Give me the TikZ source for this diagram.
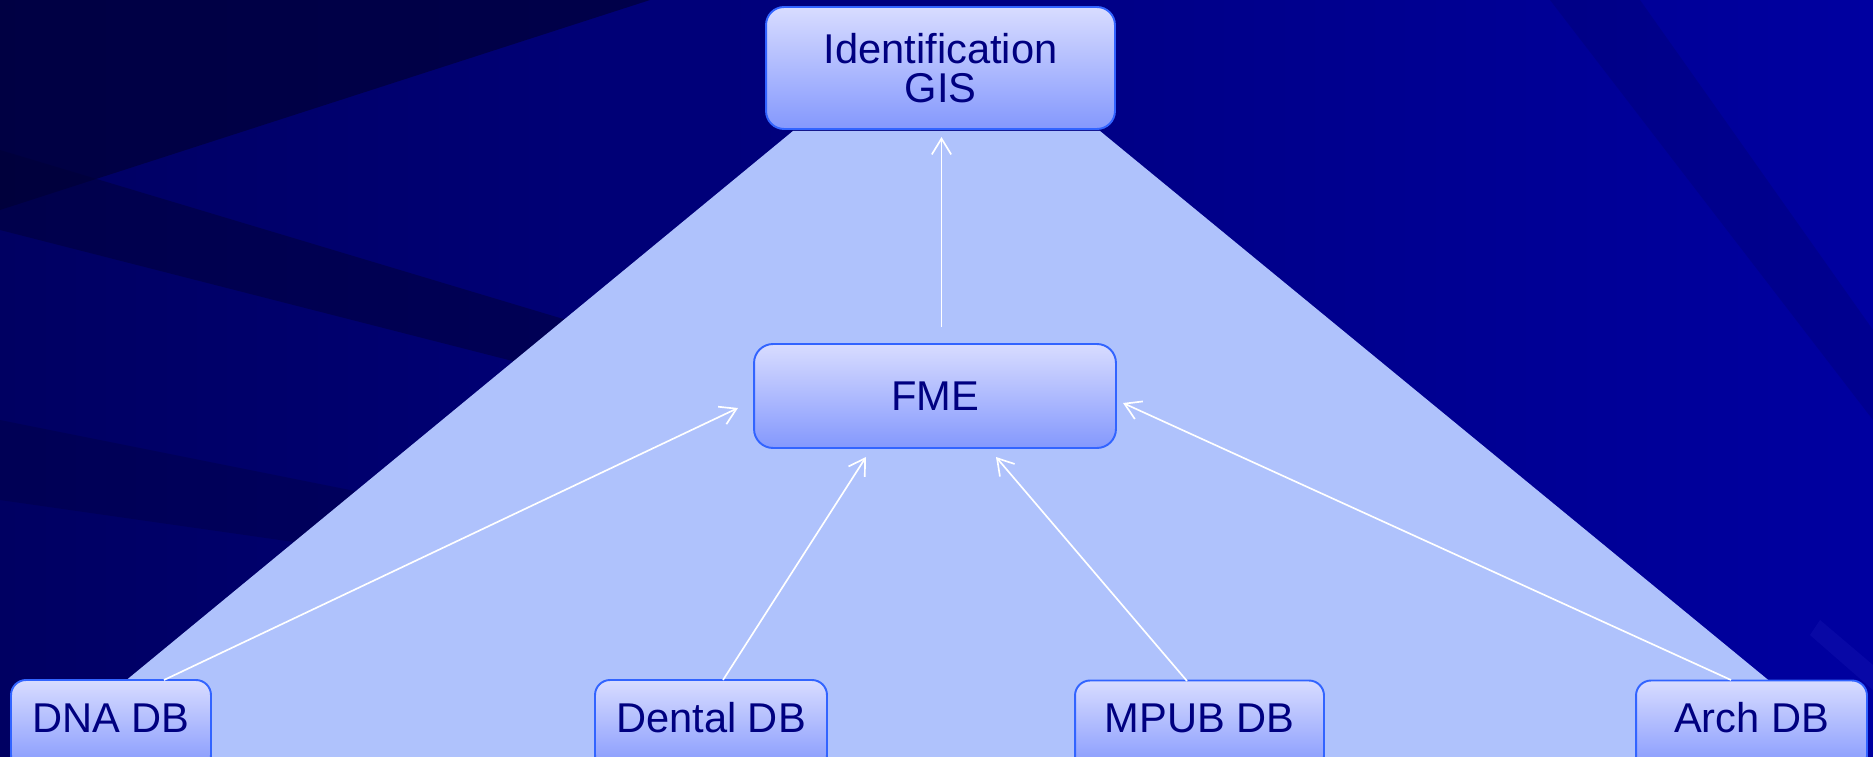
\documentclass[tikz,border=0pt]{standalone}
\usepackage{fontspec}
\setmainfont{Liberation Sans}
\usetikzlibrary{arrows.meta}
\definecolor{bgdark}{RGB}{0,0,98}
\definecolor{bgright}{RGB}{0,0,160}
\definecolor{streak}{RGB}{0,0,55}
\definecolor{trap}{RGB}{175,194,252}
\definecolor{boxtop}{RGB}{216,220,255}
\definecolor{boxbot}{RGB}{132,152,253}
\definecolor{boxline}{RGB}{50,100,255}
\definecolor{txt}{RGB}{0,0,128}
\tikzset{
  box/.style={draw=boxline, line width=1.1pt, top color=boxtop, bottom color=boxbot,
    text=txt, font=\fontsize{23.7}{22.2}\selectfont, align=center, inner sep=0pt},
  dbbox/.style={box, rounded corners=0.3cm, minimum height=1.8cm,
    text height=17pt, text depth=9pt},
  arr/.style={draw=white, line width=0.95pt, -{Straight Barb[length=9pt,width=11pt,line width=0.95pt]}},
}
\begin{document}
\begin{tikzpicture}[x=0.02cm,y=-0.02cm]
\useasboundingbox (0,0) rectangle (1873,757);
% background
\shade[left color=bgdark, right color=bgright] (0,0) rectangle (1873,757);
\fill[streak, opacity=0.7] (0,0) -- (650,0) -- (0,210) -- cycle;
\fill[streak, opacity=0.5] (0,150) -- (900,420) -- (900,460) -- (0,230) -- cycle;
\fill[streak, opacity=0.3] (0,420) -- (700,560) -- (700,600) -- (0,500) -- cycle;
\fill[streak, opacity=0.15] (1550,0) -- (1640,0) -- (1873,330) -- (1873,420) -- cycle;
\fill[blue!60!white, opacity=0.08] (1820,620) -- (1873,665) -- (1873,690) -- (1810,635) -- cycle;
% light trapezoid
\fill[trap] (793,131) -- (1100,131) -- (1862,757) -- (33,757) -- cycle;
% nodes
\node[box, rounded corners=0.36cm, minimum width=6.98cm, minimum height=2.44cm] (gis) at (940.5,68) {Identification\\GIS};
\node[box, rounded corners=0.38cm, minimum width=7.24cm, minimum height=2.08cm] (fme) at (935,396) {FME};
\node[dbbox, minimum width=4cm] (dna) at (111,725) {DNA DB};
\node[dbbox, minimum width=4.64cm] (dental) at (711,725) {Dental DB};
\node[dbbox, minimum width=4.98cm] (mpub) at (1199.5,725.5) {MPUB DB};
\node[dbbox, minimum width=4.62cm] (arch) at (1751.5,725.5) {Arch DB};
% connector end points
\coordinate (fmeT) at (941.5,327);
\coordinate (gisB) at (941.5,137);
\coordinate (dnaT) at (164,680);
\coordinate (fmeL) at (738,408);
\coordinate (dentalT) at (723,680);
\coordinate (fmeBL) at (866,457);
\coordinate (mpubT) at (1187,681);
\coordinate (fmeBR) at (996,457);
\coordinate (archT) at (1731,680);
\coordinate (fmeR) at (1123,403);
% connectors
\draw[arr] (fmeT) -- (gisB);
\draw[arr] (dnaT) -- (fmeL);
\draw[arr] (dentalT) -- (fmeBL);
\draw[arr] (mpubT) -- (fmeBR);
\draw[arr] (archT) -- (fmeR);
\end{tikzpicture}
\end{document}
